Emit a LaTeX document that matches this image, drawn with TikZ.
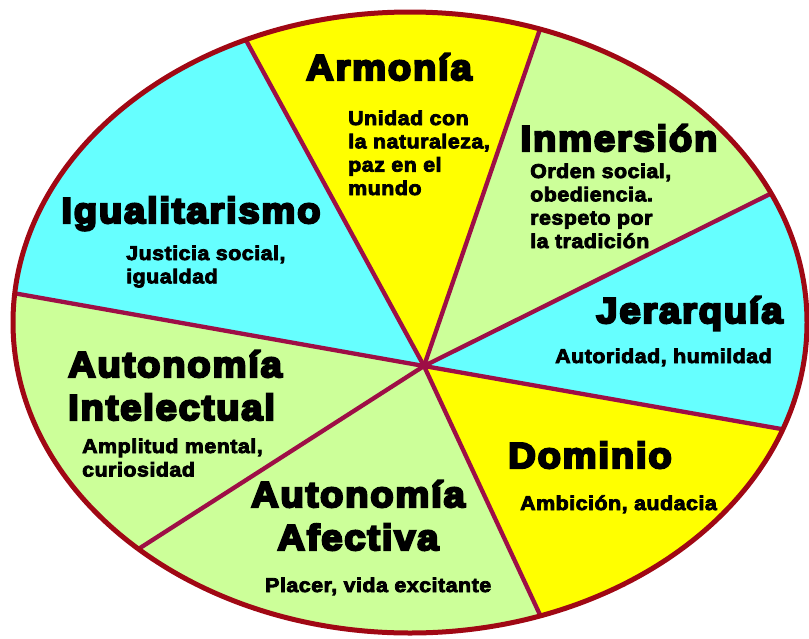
\documentclass[tikz,border=0pt]{standalone}
\usepackage{fontspec}
\usetikzlibrary{calc}
\newfontfamily\titlef{Liberation Sans Bold}[FakeStretch=1.06,LetterSpace=5,FakeBold=6.5]
\newfontfamily\subf{Liberation Sans Bold}[FakeStretch=1.07,LetterSpace=2.5,FakeBold=4]
\definecolor{sunyellow}{RGB}{255,255,0}
\definecolor{skycyan}{RGB}{102,255,255}
\definecolor{palegreen}{RGB}{204,255,153}
\definecolor{spokecol}{RGB}{158,14,70}
\definecolor{rimcol}{RGB}{160,8,20}
\begin{document}
\begin{tikzpicture}[x=1pt,y=-1pt,
  spoke/.style={draw=spokecol,line width=4.3pt},
  rim/.style={draw=rimcol,line width=5pt},
  ttl/.style={font=\titlef\fontsize{36}{43}\selectfont,inner sep=0pt,text=black},
  sub/.style={font=\subf\fontsize{20}{23}\selectfont,inner sep=0pt,text=black}]
\useasboundingbox (0,0) rectangle (809,638);
% centre and rim points
\coordinate (O) at (424,366);
\coordinate (e1) at (247,42);
\coordinate (e2) at (539,32);
\coordinate (e3) at (772,193);
\coordinate (e4) at (787,430);
\coordinate (e5) at (541,617);
\coordinate (e6) at (140,548);
\coordinate (e7) at (13,293);
\coordinate (EC) at (410,322.5);
\begin{scope}
  \clip (EC) ellipse [x radius=397pt, y radius=310.5pt];
  \fill[sunyellow] (O) -- ($(O)!4!(e1)$) -- ($(O)!4!(e2)$) -- cycle;
  \fill[palegreen] (O) -- ($(O)!4!(e2)$) -- ($(O)!4!(e3)$) -- cycle;
  \fill[skycyan]   (O) -- ($(O)!4!(e3)$) -- ($(O)!4!(e4)$) -- cycle;
  \fill[sunyellow] (O) -- ($(O)!4!(e4)$) -- ($(O)!4!(e5)$) -- cycle;
  \fill[palegreen] (O) -- ($(O)!4!(e5)$) -- ($(O)!4!(e6)$) -- cycle;
  \fill[palegreen] (O) -- ($(O)!4!(e6)$) -- ($(O)!4!(e7)$) -- cycle;
  \fill[skycyan]   (O) -- ($(O)!4!(e7)$) -- ($(O)!4!(e1)$) -- cycle;
  \foreach \e in {e1,e2,e3,e4,e5,e6,e7}
    \draw[spoke] (O) -- ($(O)!1.3!(\e)$);
\end{scope}
\draw[rim] (EC) ellipse [x radius=397pt, y radius=310.5pt];
% titles
\node[ttl,anchor=base] (tArm) at (389,80) {Armonía};
\node[ttl,anchor=base] (tInm) at (619,151) {Inmersión};
\node[ttl,anchor=base] (tIgu) at (191,223) {Igualitarismo};
\node[ttl,anchor=base] (tJer) at (689.5,323) {Jerarquía};
\node[ttl,anchor=base west] (tAI1) at (68,377) {Autonomía};
\node[ttl,anchor=base west] (tAI2) at (68,420) {Intelectual};
\node[ttl,anchor=base] (tDom) at (590,468) {Dominio};
\node[ttl,anchor=base] (tAA1) at (358,507) {Autonomía};
\node[ttl,anchor=base] (tAA2) at (358,550) {Afectiva};
% descriptions
\node[sub,anchor=base west] (sArm1) at (348,125) {Unidad con};
\node[sub,anchor=base west] (sArm2) at (348,148.3) {la naturaleza,};
\node[sub,anchor=base west] (sArm3) at (348,171.6) {paz en el};
\node[sub,anchor=base west] (sArm4) at (348,195) {mundo};
\node[sub,anchor=base west] (sInm1) at (530,178) {Orden social,};
\node[sub,anchor=base west] (sInm2) at (530,201.3) {obediencia.};
\node[sub,anchor=base west] (sInm3) at (530,224.6) {respeto por};
\node[sub,anchor=base west] (sInm4) at (530,248) {la tradición};
\node[sub,anchor=base west] (sIgu1) at (126,260) {Justicia social,};
\node[sub,anchor=base west] (sIgu2) at (126,283.3) {igualdad};
\node[sub,anchor=base west] (sJer) at (555,363) {Autoridad, humildad};
\node[sub,anchor=base west] (sAI1) at (82,453) {Amplitud mental,};
\node[sub,anchor=base west] (sAI2) at (82,476.5) {curiosidad};
\node[sub,anchor=base west] (sDom) at (520,510) {Ambición, audacia};
\node[sub,anchor=base west] (sAA) at (265,592) {Placer, vida excitante};
\end{tikzpicture}
\end{document}
